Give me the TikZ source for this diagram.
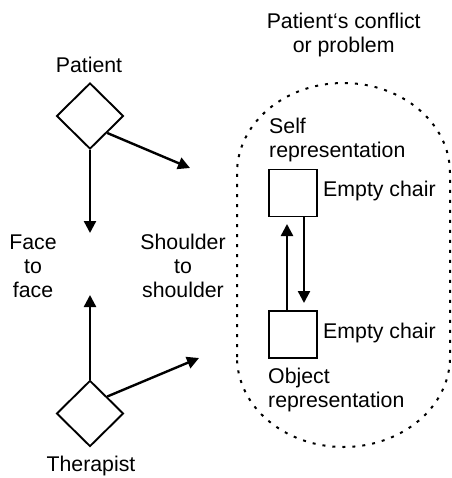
\documentclass[tikz,border=0pt]{standalone}
\usepackage{fontspec}
\setmainfont{Liberation Sans}
\usetikzlibrary{shapes.geometric,arrows.meta}
\begin{document}
\begin{tikzpicture}[x=1pt,y=-1pt,
  every node/.style={font=\fontsize{21.3}{24}\selectfont, inner sep=0pt},
  person/.style={diamond, draw, line width=1.9pt, minimum width=67pt, minimum height=66pt},
  chair/.style={rectangle, draw, line width=1.9pt, minimum width=48pt, minimum height=47pt},
  link/.style={line width=2.4pt, -{Triangle[length=12pt,width=12pt]}},
  zone/.style={draw, line width=2pt, dash pattern=on 3pt off 7pt}]
\useasboundingbox (0,0) rectangle (451,478);

% conflict zone: straight sides capped by half-ellipses
\draw[zone] (237,357) -- (237,173)
  arc[start angle=180, end angle=0, x radius=106.5pt, y radius=90pt]
  -- (450,357)
  arc[start angle=0, end angle=-180, x radius=106.5pt, y radius=90pt]
  -- cycle;

% patient and therapist
\node[person] (pat) at (90,116) {};
\node[person] (ther) at (90,413.5) {};
\node (patlbl) at (89,65) {Patient};
\node (therlbl) at (91,466) {Therapist};

% arrow targets
\coordinate (patdown) at (90,233);
\coordinate (patside) at (190,168);
\coordinate (therup) at (90,295);
\coordinate (therside) at (199,358);

\draw[link] (pat.south) -- (patdown);
\draw[link] (pat.south east) -- (patside);
\draw[link] (ther.north) -- (therup);
\draw[link] (ther.north east) -- (therside);

% seating labels
\node[align=center] (face) at (33,266) {Face\\to\\face};
\node[align=center] (shoulder) at (183,266) {Shoulder\\to\\shoulder};

% empty chairs
\node[chair] (selfchair) at (293,193) {};
\node[chair] (objchair) at (293,334.5) {};
\coordinate (uptip) at (287,224);
\coordinate (downtip) at (304,303);
\draw[link] ([xshift=-6pt]objchair.north) -- (uptip);
\draw[link] ([xshift=11pt]selfchair.south) -- (downtip);

\node[anchor=west] (emptyA) at (323,191) {Empty chair};
\node[anchor=west] (emptyB) at (323,333) {Empty chair};
\node[anchor=west, align=left] (selfrep) at (269,140) {Self\\representation};
\node[anchor=west, align=left] (objrep) at (268,390) {Object\\representation};

\node[align=center] (title) at (343.7,35) {Patient‘s conflict\\or problem};
\end{tikzpicture}
\end{document}
